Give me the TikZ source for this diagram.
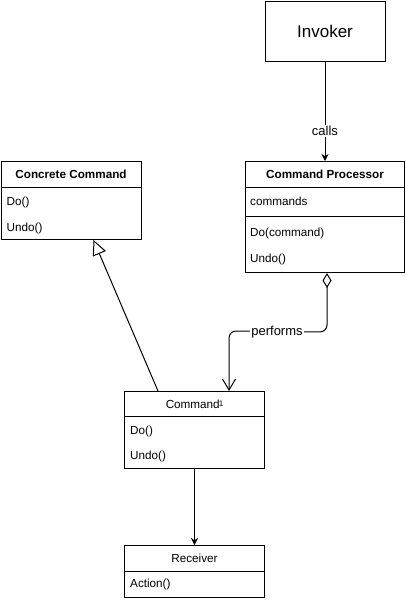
\documentclass[tikz,border=0pt]{standalone}
\usepackage{fontspec}
\setmainfont{Liberation Sans}
\usetikzlibrary{arrows.meta,calc}
\begin{document}
\begin{tikzpicture}[x=1pt,y=-1pt,
  box/.style={draw,line width=1pt,anchor=north west,inner sep=0pt},
  sep/.style={line width=1pt},
  lbl/.style={inner sep=0pt,font=\fontsize{11.7}{13}\selectfont},
  item/.style={lbl,anchor=west},
  ttl/.style={lbl,font=\fontsize{11.7}{13}\selectfont\bfseries},
  conn/.style={line width=1pt},
  arr/.style={conn,-{Stealth[length=7pt,width=7pt]}},
  inh/.style={conn,-{Triangle[open,length=15pt,width=14pt,fill=white]}},
  agg/.style={conn,rounded corners=7pt,{Diamond[open,length=15pt,width=9pt,fill=white]}-{Straight Barb[length=11pt,width=13pt]}},
  tag/.style={lbl,fill=white,inner sep=1pt,font=\fontsize{13}{15}\selectfont}]
\useasboundingbox (0,0) rectangle (405,600);

% Invoker
\node[box,minimum width=120pt,minimum height=60pt] (inv) at (264.5,0.5) {};
\node[lbl,font=\fontsize{17}{20}\selectfont] (invt) at (inv.center) {Invoker};

% Concrete Command
\node[box,minimum width=140pt,minimum height=78pt] (cc) at (0.5,161) {};
\draw[sep] ($(cc.north west)+(0,26)$) -- ($(cc.north east)+(0,26)$);
\node[ttl] (cct) at ($(cc.north)+(0,13.5)$) {Concrete Command};
\node[item] (ccdo) at ($(cc.north west)+(6,41)$) {Do()};
\node[item] (ccundo) at ($(cc.north west)+(6,67)$) {Undo()};

% Command Processor
\node[box,minimum width=159pt,minimum height=111pt] (cp) at (245,161) {};
\draw[sep] ($(cp.north west)+(0,26)$) -- ($(cp.north east)+(0,26)$);
\draw[sep] ($(cp.north west)+(0,55)$) -- ($(cp.north east)+(0,55)$);
\node[ttl] (cpt) at ($(cp.north)+(0,13.5)$) {Command Processor};
\node[item] (cpattr) at ($(cp.north west)+(5,40)$) {commands};
\node[item] (cpdo) at ($(cp.north west)+(5,72)$) {Do(command)};
\node[item] (cpundo) at ($(cp.north west)+(5,98)$) {Undo()};

% Command
\node[box,minimum width=140pt,minimum height=77pt] (cmd) at (124,391) {};
\draw[sep] ($(cmd.north west)+(0,25)$) -- ($(cmd.north east)+(0,25)$);
\node[lbl] (cmdt) at ($(cmd.north)+(0,13)$) {Command\kern-1pt\raisebox{1.5pt}{\fontsize{8}{8}\selectfont 1}};
\node[item] (cmddo) at ($(cmd.north west)+(6,40)$) {Do()};
\node[item] (cmdundo) at ($(cmd.north west)+(6,65)$) {Undo()};

% Receiver
\node[box,minimum width=140pt,minimum height=52pt] (rcv) at (124,545) {};
\draw[sep] ($(rcv.north west)+(0,26)$) -- ($(rcv.north east)+(0,26)$);
\node[lbl] (rcvt) at ($(rcv.north)+(0,13)$) {Receiver};
\node[item] (rcvact) at ($(rcv.north west)+(6,39)$) {Action()};

% Connectors
\draw[arr] (inv.south) -- (cp.north) node[tag,pos=0.70] (calls) {calls};
\draw[inh] ($(cmd.north west)+(34,0)$) -- ($(cc.south west)+(93,0)$);
\coordinate (pA) at ($(cp.south west)+(82,0)$);
\coordinate (pB) at ($(cmd.north west)+(105,0)$);
\draw[agg] (pA) -- ($(pA)+(0,59)$) -- ($(pB)+(0,-60)$) -- (pB);
\node[tag] (perf) at ($(pA)!0.5!(pB)+(-1,0)$) {performs};
\draw[arr] (cmd.south) -- (rcv.north);
\end{tikzpicture}
\end{document}
